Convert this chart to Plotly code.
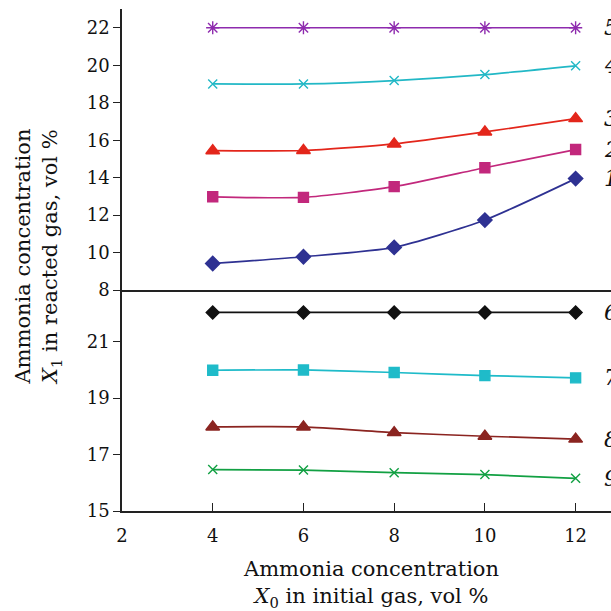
import plotly.graph_objects as go
from plotly.subplots import make_subplots

x_vals = [4, 6, 8, 10, 12]

# Top panel series (curves 1-5)
s1 = [9.42, 9.78, 10.28, 11.74, 13.95]
s2 = [12.98, 12.95, 13.52, 14.53, 15.5]
s3 = [15.44, 15.45, 15.8, 16.44, 17.15]
s4 = [19.0, 19.0, 19.18, 19.5, 19.97]
s5 = [22.0, 22.0, 22.0, 22.0, 22.0]

# Bottom panel series (curves 6-9)
s6 = [22.04, 22.04, 22.04, 22.04, 22.04]
s7 = [19.99, 20.0, 19.91, 19.8, 19.72]
s8 = [17.98, 17.98, 17.78, 17.65, 17.55]
s9 = [16.47, 16.45, 16.36, 16.29, 16.16]

x_ticks = [2, 4, 6, 8, 10, 12]
top_ticks = [8, 10, 12, 14, 16, 18, 20, 22]
bottom_ticks = [15, 17, 19, 21]

FONT = "DejaVu Serif"

fig = make_subplots(rows=2, cols=1, shared_xaxes=True, vertical_spacing=0,
                    row_heights=[0.56, 0.44])

top = [
    ("1", s1, "#2E3192", "diamond", 11),
    ("2", s2, "#C2287C", "square", 10),
    ("3", s3, "#E3261B", "triangle-up", 12),
    ("4", s4, "#22B8C6", "x-thin-open", 9),
    ("5", s5, "#8E2BAE", "asterisk-open", 11),
]
bottom = [
    ("6", s6, "#111111", "diamond", 10),
    ("7", s7, "#1FBBC9", "square", 10),
    ("8", s8, "#8B2420", "triangle-up", 12),
    ("9", s9, "#12A043", "x-thin-open", 9),
]

annotations = []
for row, group in ((1, top), (2, bottom)):
    for name, ys, col, sym, size in group:
        fig.add_trace(go.Scatter(
            x=x_vals, y=ys, mode="lines+markers", name=name,
            line=dict(color=col, width=1.7, shape="spline", smoothing=0.6),
            marker=dict(symbol=sym, size=size, color=col,
                        line=dict(color=col, width=1.4)),
            showlegend=False, cliponaxis=False), row=row, col=1)
        annotations.append(dict(
            x=12.58, y=ys[-1], xref="x" if row == 1 else "x2",
            yref="y" if row == 1 else "y2",
            text="<i>%s</i>" % name, showarrow=False, xanchor="left",
            font=dict(family=FONT, size=22, color="#111111")))

axis_common = dict(showline=True, linecolor="#222222", linewidth=1.5,
                   showgrid=False, zeroline=False,
                   tickfont=dict(family=FONT, size=18, color="#111111"))

fig.update_xaxes(range=[2, 12.78], **axis_common)
fig.update_xaxes(showticklabels=False, ticks="", row=1, col=1)
fig.update_xaxes(tickvals=x_ticks, ticks="inside", ticklen=8, tickwidth=1.2,
                 tickcolor="#222222", ticklabelstandoff=8, row=2, col=1)
fig.update_yaxes(range=[8, 23], tickvals=top_ticks, ticks="outside", ticklen=7,
                 tickwidth=1.2, tickcolor="#222222", row=1, col=1, **axis_common)
fig.update_yaxes(range=[15, 22.83], tickvals=bottom_ticks, ticks="outside",
                 ticklen=7, tickwidth=1.2, tickcolor="#222222", row=2, col=1,
                 **axis_common)

annotations.append(dict(
    x=-0.172, y=0.506, xref="paper", yref="paper", textangle=-90,
    text="Ammonia concentration<br><i>X</i><sub>1</sub> in reacted gas, vol %",
    showarrow=False, xanchor="center", yanchor="middle",
    font=dict(family=FONT, size=21, color="#111111")))
annotations.append(dict(
    x=0.51, y=-0.145, xref="paper", yref="paper",
    text="Ammonia concentration<br><i>X</i><sub>0</sub> in initial gas, vol %",
    showarrow=False, xanchor="center", yanchor="middle",
    font=dict(family=FONT, size=21, color="#111111")))

fig.update_layout(
    width=611, height=611,
    margin=dict(l=122, r=0, t=9, b=100),
    paper_bgcolor="white", plot_bgcolor="white",
    annotations=annotations,
)

fig.write_html("out.html",
               config={"displayModeBar": False},
               post_script="document.body.style.margin='0';"
                           "document.body.style.overflow='hidden';")
